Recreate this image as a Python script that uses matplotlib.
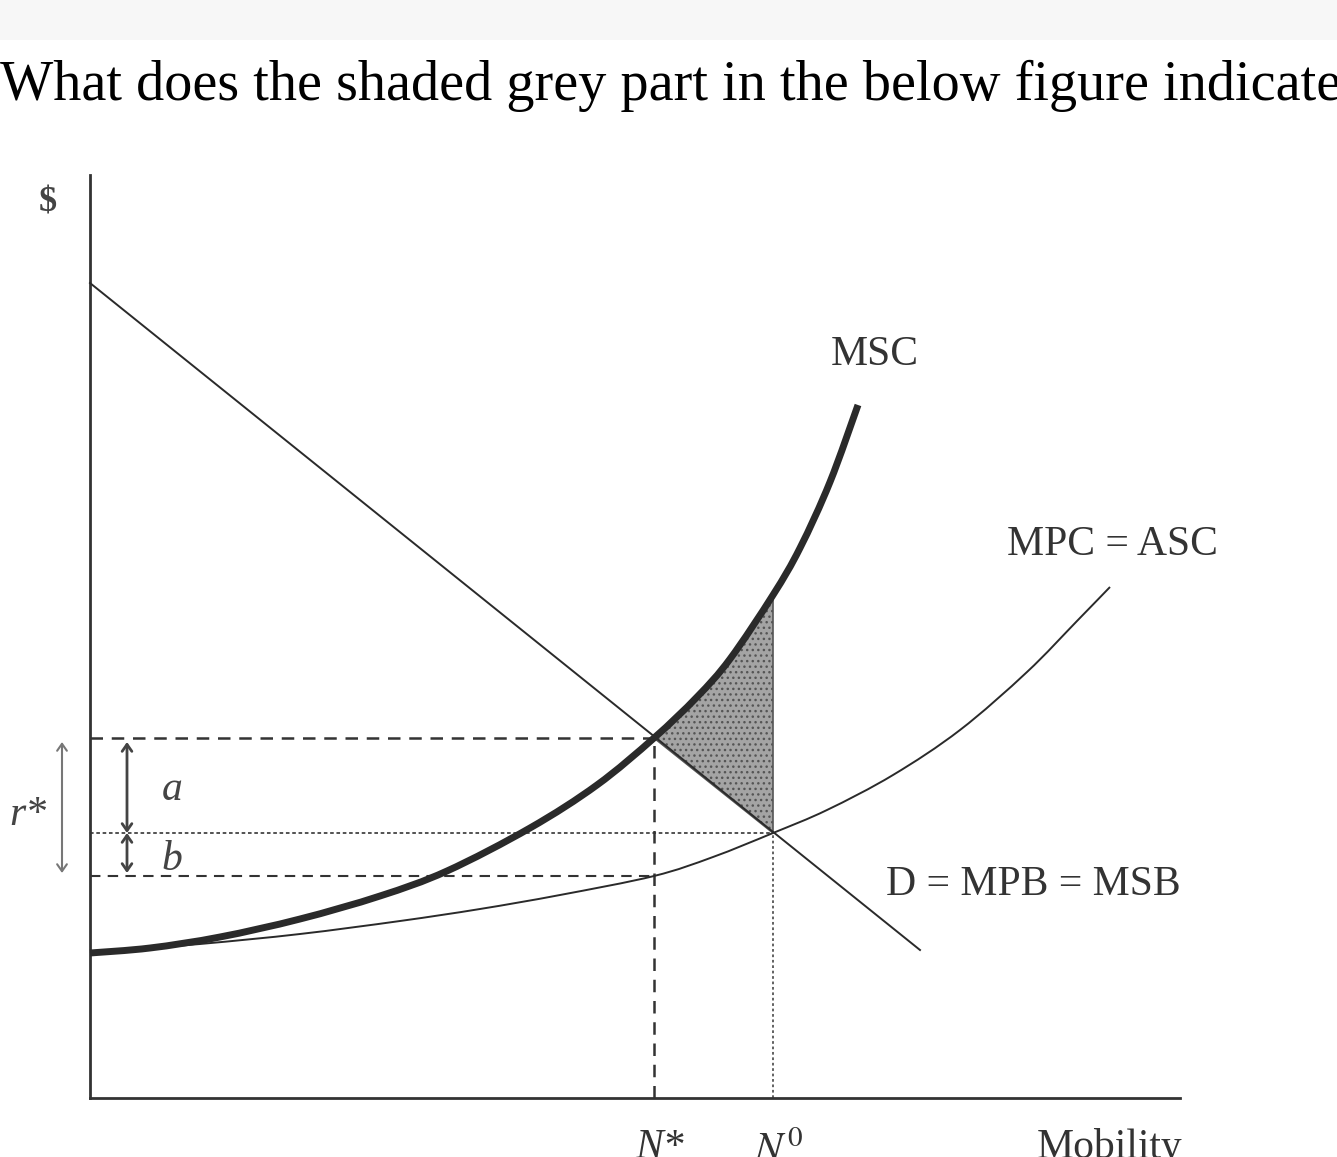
import numpy as np
import matplotlib.pyplot as plt
from matplotlib.path import Path
from matplotlib.patches import PathPatch

# curves (x = mobility, y = $)
msc_x = [0, 0.6, 1.3, 2.1, 2.9, 3.57, 4.4, 5.07, 5.64, 6.07, 6.4, 6.83, 7.1, 7.4, 7.68]
msc_y = [1.45, 1.50, 1.61, 1.79, 2.02, 2.27, 2.70, 3.13, 3.60, 4.01, 4.39, 5.03, 5.50, 6.16, 6.93]

mpc_x = [0, 1.1, 2.1, 3.1, 3.9, 4.7, 5.64, 6.23, 6.83, 7.37, 8.03, 8.7, 9.37, 9.87, 10.2]
mpc_y = [1.45, 1.54, 1.64, 1.77, 1.89, 2.03, 2.22, 2.41, 2.65, 2.88, 3.23, 3.68, 4.26, 4.77, 5.11]

dem_x = [0, 8.3]
dem_y = [8.15, 1.48]

n_star, n_zero = 5.64, 6.83
p_top, p_mid, p_low = 3.60, 2.65, 2.22

x_end, y_end = 10.9, 9.23

serif = 'Liberation Serif'
plt.rcParams['mathtext.fontset'] = 'stix'
plt.rcParams['hatch.color'] = '#e6e6e6'


def smooth_path(xs, ys):
    # bezier through the read points (catmull-rom control points)
    p = np.column_stack([xs, ys])
    verts = [p[0]]
    codes = [Path.MOVETO]
    for i in range(len(p) - 1):
        p0 = p[i - 1] if i > 0 else p[i]
        p3 = p[i + 2] if i + 2 < len(p) else p[i + 1]
        c1 = p[i] + (p[i + 1] - p0) / 6
        c2 = p[i + 1] - (p3 - p[i]) / 6
        verts += [c1, c2, p[i + 1]]
        codes += [Path.CURVE4] * 3
    return Path(verts, codes)


fig = plt.figure(figsize=(13.37, 11.57), dpi=100)
ax = fig.add_axes([0, 0, 1, 1])
ax.set_xlim(-0.9, 12.47)
ax.set_ylim(-0.59, 10.98)
ax.set_xticks([])
ax.set_yticks([])
for s in ['top', 'right']:
    ax.spines[s].set_visible(False)
ax.spines['left'].set_position(('data', 0))
ax.spines['bottom'].set_position(('data', 0))
ax.spines['left'].set_bounds(0, y_end)
ax.spines['bottom'].set_bounds(0, x_end)
for s in ['left', 'bottom']:
    ax.spines[s].set_linewidth(2)
    ax.spines[s].set_color('#333333')

# grey band of the page at the top
ax.axhspan(10.58, 10.98, color='#f7f7f7', lw=0, zorder=0)
ax.text(-0.9, 9.98, 'What does the shaded grey part in the below figure indicate',
        family=serif, fontsize=40.5, va='baseline', ha='left', color='black')

# shaded area between MSC and D
i0 = msc_x.index(n_star)
i1 = msc_x.index(n_zero)
poly_x = msc_x[i0:i1 + 1] + [n_zero]
poly_y = msc_y[i0:i1 + 1] + [p_mid]
ax.fill(poly_x, poly_y, facecolor='#a4a4a4', edgecolor='#555555', hatch='...',
        lw=1.2, zorder=2)

# guide lines
ax.plot([0, n_star], [p_top, p_top], color='#333333', lw=1.8, dashes=(5, 3.5))
ax.plot([0, n_star], [p_low, p_low], color='#333333', lw=1.5, dashes=(5, 3.5))
ax.plot([0, n_zero], [p_mid, p_mid], color='#444444', lw=1.3, dashes=(2, 1.5))
ax.plot([n_star, n_star], [0, p_top], color='#333333', lw=1.8, dashes=(5, 3.5))
ax.plot([n_zero, n_zero], [0, p_mid], color='#555555', lw=1.3, dashes=(1.5, 1.5))

# curves
ax.plot(dem_x, dem_y, color='#2a2a2a', lw=1.4, zorder=3)
ax.add_patch(PathPatch(smooth_path(mpc_x, mpc_y), fill=False, edgecolor='#2a2a2a',
                       lw=1.4, zorder=3))
ax.add_patch(PathPatch(smooth_path(msc_x, msc_y), fill=False, edgecolor='#2a2a2a',
                       lw=5, capstyle='butt', zorder=4))

# brackets on the left
arr = dict(arrowstyle='<->,head_length=0.5,head_width=0.35', lw=1.5,
           shrinkA=0, shrinkB=0)
ax.annotate('', xy=(-0.28, 2.25), xytext=(-0.28, 3.56),
            arrowprops=dict(arr, color='#777777'))
ax.annotate('', xy=(0.37, p_mid), xytext=(0.37, 3.56),
            arrowprops=dict(arr, color='#444444', lw=2))
ax.annotate('', xy=(0.37, 2.25), xytext=(0.37, p_mid),
            arrowprops=dict(arr, color='#444444', lw=2))

ax.text(-0.42, 8.95, '$', family=serif, fontsize=26, fontweight='bold',
        ha='center', va='center', color='#444444')
ax.text(-0.62, 2.83, 'r*', family=serif, style='italic', fontsize=30,
        ha='center', va='center', color='#444444')
ax.text(0.82, 3.08, 'a', family=serif, style='italic', fontsize=30,
        ha='center', va='center', color='#444444')
ax.text(0.82, 2.38, 'b', family=serif, style='italic', fontsize=30,
        ha='center', va='center', color='#444444')

lab = dict(family=serif, fontsize=30, color='#333333')
ax.text(7.85, 7.43, 'MSC', ha='center', va='center', **lab)
ax.text(10.22, 5.53, 'MPC = ASC', ha='center', va='center', **lab)
ax.text(9.43, 2.13, 'D = MPB = MSB', ha='center', va='center', **lab)
ax.text(n_star + 0.06, -0.30, 'N*', family=serif, style='italic', fontsize=30,
        ha='center', va='top', color='#333333')
ax.text(n_zero + 0.06, -0.30, r'$N^0$', fontsize=30, ha='center', va='top',
        color='#333333')
ax.text(10.2, -0.30, 'Mobility', ha='center', va='top', **lab)

fig.savefig('out.png', dpi=100)
